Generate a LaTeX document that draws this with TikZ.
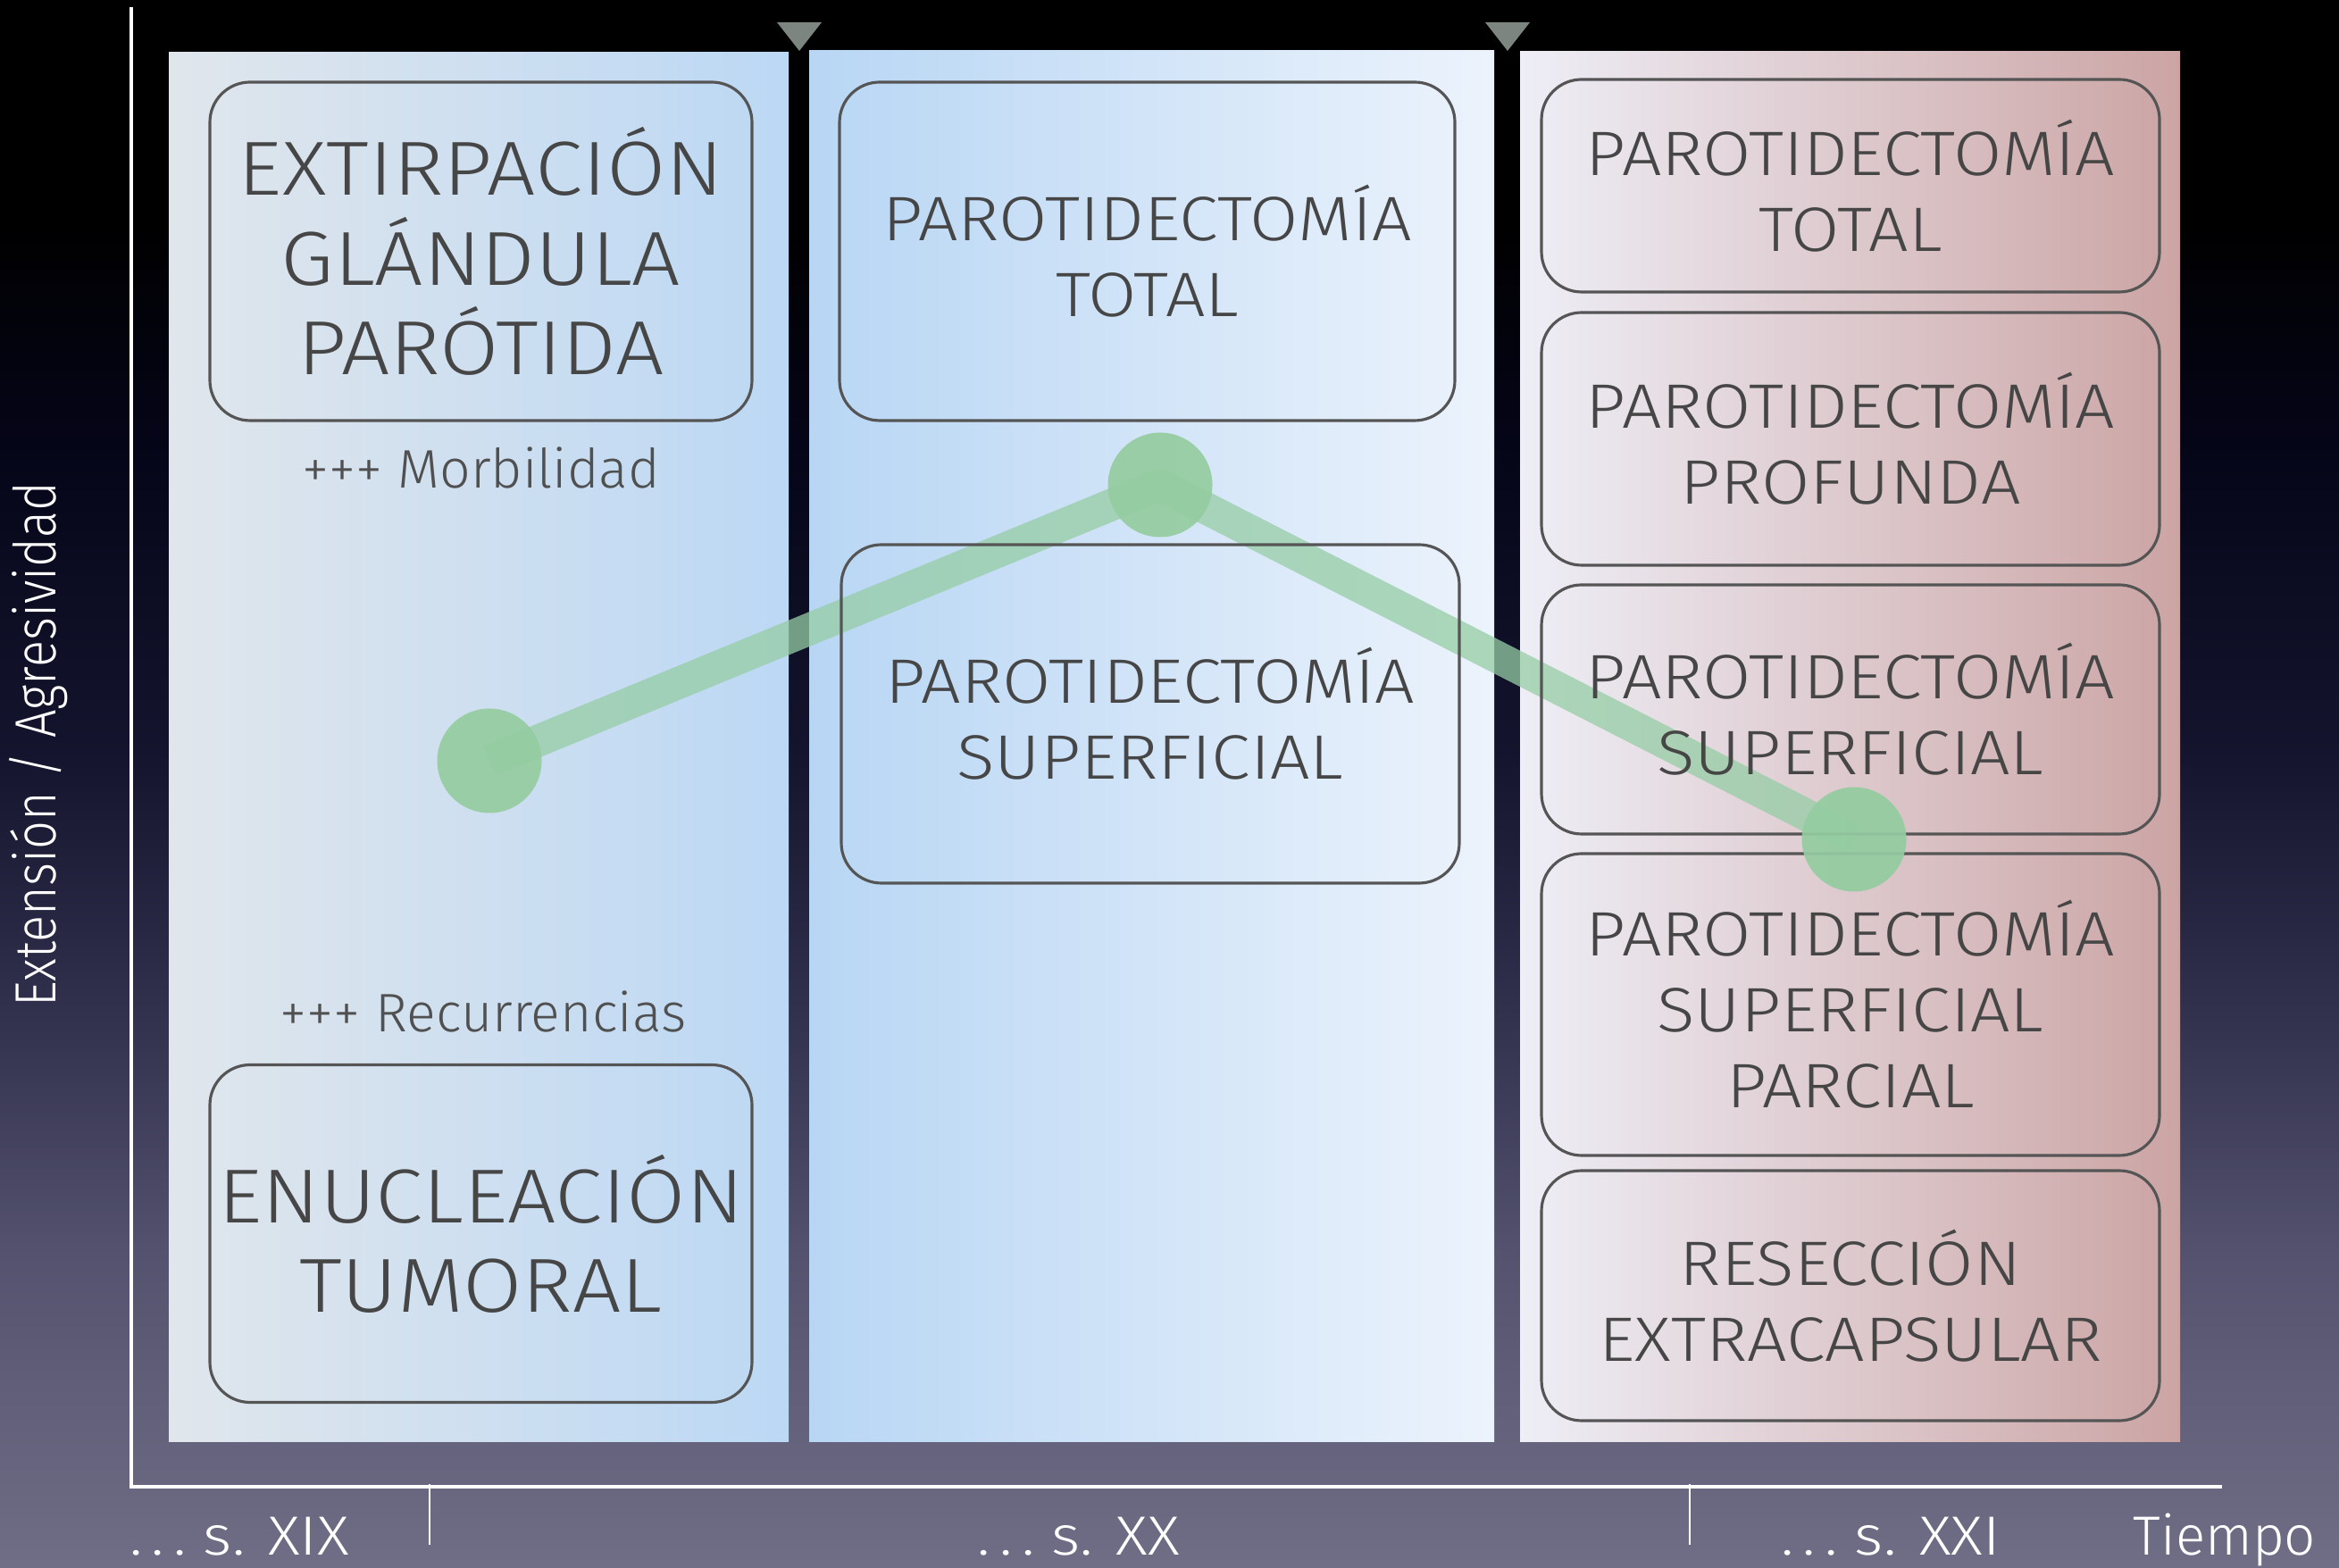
\documentclass[tikz,border=0pt]{standalone}
\usepackage{fontspec}
\setmainfont{Fira Sans Light}
\newfontfamily\widefont{Fira Sans Light}[FakeStretch=1.12]
\newfontfamily\narrowfont{Fira Sans Light}[FakeStretch=0.86]
\usetikzlibrary{positioning}

\definecolor{boxline}{RGB}{85,85,85}
\definecolor{boxtext}{RGB}{70,70,70}
\definecolor{notetext}{RGB}{80,80,80}
\definecolor{bgbot}{RGB}{112,110,134}
\definecolor{bglow}{RGB}{84,82,110}
\definecolor{bgmid}{RGB}{52,51,80}
\definecolor{bghigh}{RGB}{20,20,46}
\definecolor{bgtop}{RGB}{5,5,24}
\definecolor{triangle}{RGB}{125,133,128}
\definecolor{linegreen}{RGB}{150,205,165}
\definecolor{dotgreen}{RGB}{148,204,160}

% visible part of the shading runs from 25bp (bottom) to 75bp (top)
\pgfdeclareverticalshading{slidebg}{100bp}{color(0bp)=(bgbot); color(25bp)=(bgbot); color(35bp)=(bglow); color(42bp)=(bgmid); color(51bp)=(bghigh); color(61bp)=(bgtop); color(68bp)=(black); color(100bp)=(black)}

\pgfdeclarelayer{back}
\pgfdeclarelayer{mid}
\pgfsetlayers{back,mid,main}

\tikzset{
  proc/.style={draw=boxline, line width=0.9pt, rounded corners=0.45cm, align=center,
    text=boxtext, inner sep=0pt, font=\widefont\fontsize{20}{24.2}\selectfont},
  bigproc/.style={proc, font=\widefont\fontsize{24.4}{28.5}\selectfont},
  note/.style={text=notetext, anchor=base, font=\fontsize{17.3}{20}\selectfont},
  axislabel/.style={text=white, anchor=base, font=\fontsize{17.6}{20}\selectfont},
  dot/.style={circle, fill=dotgreen, opacity=0.92, minimum size=1.17cm, inner sep=0pt},
  trend/.style={draw=linegreen, line width=0.36cm, opacity=0.75, line join=round},
}

\begin{document}
\begin{tikzpicture}
\useasboundingbox (0,0) rectangle (26.19,17.55);
\begin{pgfonlayer}{back}
% background and columns
\shade[shading=slidebg] (0,0) rectangle (26.19,17.55);
\shade[left color={rgb,255:red,224;green,230;blue,236}, right color={rgb,255:red,188;green,216;blue,244}] (1.89,1.41) rectangle (8.83,16.96);
\shade[left color={rgb,255:red,184;green,214;blue,244}, right color={rgb,255:red,236;green,243;blue,252}] (9.06,1.41) rectangle (16.73,16.98);
\shade[left color={rgb,255:red,238;green,238;blue,246}, middle color={rgb,255:red,250;green,204;blue,208}, right color={rgb,255:red,204;green,164;blue,164}] (17.02,1.41) rectangle (24.41,16.97);
\end{pgfonlayer}

% markers on top
\fill[triangle] (8.95,16.98) -- (8.70,17.30) -- (9.20,17.30) -- cycle;
\fill[triangle] (16.88,16.98) -- (16.63,17.30) -- (17.13,17.30) -- cycle;

% axes
\coordinate (origin) at (1.47,0.90);
\draw[white, line width=1.2pt] (1.47,17.47) -- (origin) -- (24.88,0.90);
\draw[white, line width=0.7pt] (4.81,0.93) -- (4.81,0.25);
\draw[white, line width=0.7pt] (18.92,0.93) -- (18.92,0.25);

\node[axislabel, font=\widefont\fontsize{17.6}{20}\selectfont] (sxix) at (2.68,0.14) {.\,.\,.\ s. XIX};
\node[axislabel, font=\widefont\fontsize{17.6}{20}\selectfont] (sxx) at (12.08,0.14) {.\,.\,.\ s. XX};
\node[axislabel, font=\widefont\fontsize{17.6}{20}\selectfont] (sxxi) at (21.17,0.14) {.\,.\,.\ s. XXI};
\node[axislabel] (tiempo) at (24.91,0.14) {Tiempo};
\node[axislabel, rotate=90, font=\narrowfont\fontsize{18.5}{20}\selectfont] (yaxis) at (0.63,9.21) {Extensión / Agresividad};

% first column
\node[bigproc, minimum width=6.07cm, minimum height=3.79cm] (ext) at (5.385,14.735) {EXTIRPACIÓN\\GLÁNDULA\\PARÓTIDA};
\node[note] (morb) at (5.39,12.08) {+++ Morbilidad};
\node[note] (recu) at (5.41,5.99) {+++ Recurrencias};
\node[bigproc, minimum width=6.07cm, minimum height=3.78cm] (enu) at (5.385,3.735) {ENUCLEACIÓN\\TUMORAL};

% second column
\node[proc, minimum width=6.89cm, minimum height=3.79cm] (ptotal) at (12.845,14.735) {PAROTIDECTOMÍA\\TOTAL};
\node[proc, minimum width=6.92cm, minimum height=3.79cm] (psup) at (12.88,9.555) {PAROTIDECTOMÍA\\SUPERFICIAL};

% third column
\node[proc, minimum width=6.92cm, minimum height=2.38cm] (ntotal) at (20.72,15.47) {PAROTIDECTOMÍA\\TOTAL};
\node[proc, minimum width=6.92cm, minimum height=2.83cm] (nprof) at (20.72,12.635) {PAROTIDECTOMÍA\\PROFUNDA};
\node[proc, minimum width=6.92cm, minimum height=2.79cm] (nsup) at (20.72,9.605) {PAROTIDECTOMÍA\\SUPERFICIAL};
\node[proc, minimum width=6.92cm, minimum height=3.38cm] (nparc) at (20.72,6.30) {PAROTIDECTOMÍA\\SUPERFICIAL\\PARCIAL};
\node[proc, minimum width=6.92cm, minimum height=2.80cm] (nresec) at (20.72,3.04) {RESECCIÓN\\EXTRACAPSULAR};

% trend
\node[dot] (d1) at (5.48,9.03) {};
\node[dot] (d2) at (12.99,12.12) {};
\node[dot] (d3) at (20.76,8.15) {};
\begin{pgfonlayer}{mid}
\draw[trend] (d1.center) -- (d2.center) -- (d3.center);
\end{pgfonlayer}
\end{tikzpicture}
\end{document}
